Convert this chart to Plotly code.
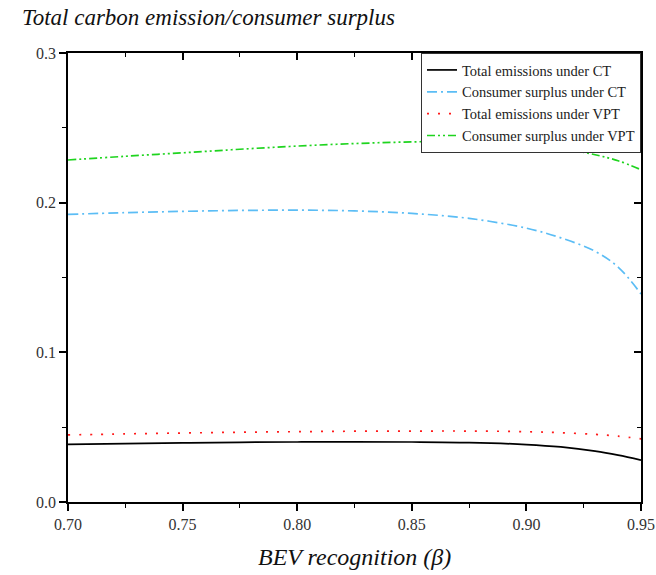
import plotly.graph_objects as go

beta = [0.70, 0.725, 0.75, 0.775, 0.80, 0.825, 0.85, 0.875, 0.90, 0.915, 0.93, 0.94, 0.95]
emis_ct = [0.0385, 0.0390, 0.0395, 0.0399, 0.0401, 0.0402, 0.0401, 0.0397, 0.0384, 0.0368, 0.0340, 0.0313, 0.0280]
surp_ct = [0.1922, 0.1933, 0.1942, 0.1948, 0.1950, 0.1945, 0.1928, 0.1895, 0.1830, 0.1765, 0.1675, 0.1570, 0.1390]
emis_vpt = [0.0448, 0.0455, 0.0461, 0.0466, 0.0470, 0.0473, 0.0474, 0.0474, 0.0470, 0.0463, 0.0452, 0.0440, 0.0422]
surp_vpt = [0.2285, 0.2310, 0.2333, 0.2357, 0.2378, 0.2395, 0.2406, 0.2410, 0.2390, 0.2365, 0.2320, 0.2280, 0.2220]

names = ["Total emissions under CT", "Consumer surplus under CT",
         "Total emissions under VPT", "Consumer surplus under VPT"]
colors = ["#000000", "#5BBDF5", "#FF1A1A", "#1ED41E"]
dashes = ["solid", "10px,4px,2px,4px", "2px,9px", "8px,3px,2px,3px,2px,3px"]
series = [emis_ct, surp_ct, emis_vpt, surp_vpt]

FONT = "Liberation Serif"

fig = go.Figure()
for nm, ys, c, d in zip(names, series, colors, dashes):
    fig.add_trace(go.Scatter(x=beta, y=ys, name=nm, mode="lines",
                             line=dict(color=c, dash=d, width=1.7, shape="spline"),
                             hoverinfo="skip"))

# invisible trace for mirrored (top/right) axes
fig.add_trace(go.Scatter(x=[beta[0]], y=[0], xaxis="x2", yaxis="y2", mode="markers",
                         marker=dict(opacity=0), showlegend=False, hoverinfo="skip"))

xr = [0.70, 0.95]
yr = [0.0, 0.3]
xt = [0.70, 0.75, 0.80, 0.85, 0.90, 0.95]
yt = [0.0, 0.1, 0.2, 0.3]
tfont = dict(family=FONT, size=16, color="#333333")

fig.update_layout(
    width=656, height=575,
    margin=dict(l=68, r=15, t=53, b=73),
    paper_bgcolor="white", plot_bgcolor="white",
    font=dict(family=FONT, color="#222222"),
    showlegend=True,
    legend=dict(x=1, y=1, xanchor="right", yanchor="top",
                bgcolor="white", bordercolor="#333333", borderwidth=1,
                font=dict(family=FONT, size=14.5, color="#222222"),
                tracegroupgap=0),
    xaxis=dict(range=xr, tickvals=xt, tickformat=".2f", automargin=False,
               showgrid=False, zeroline=False, showline=True, linecolor="black", linewidth=1.5,
               ticks="outside", ticklen=7, tickwidth=1.5, tickcolor="black",
               minor=dict(ticks="outside", ticklen=4, tickwidth=1.2, tickcolor="black", dtick=0.025, showgrid=False),
               tickfont=tfont),
    yaxis=dict(range=yr, tickvals=yt, tickformat=".1f", automargin=False,
               showgrid=False, zeroline=False, showline=True, linecolor="black", linewidth=1.5,
               ticks="outside", ticklen=7, tickwidth=1.5, tickcolor="black",
               minor=dict(ticks="outside", ticklen=4, tickwidth=1.2, tickcolor="black", dtick=0.05, showgrid=False),
               tickfont=tfont),
    xaxis2=dict(range=xr, overlaying="x", side="top", tickvals=xt, automargin=False,
                showticklabels=False, showgrid=False, zeroline=False, showline=True,
                linecolor="black", linewidth=1.5, ticks="inside", ticklen=7, tickwidth=1.5, tickcolor="black",
                minor=dict(ticks="inside", ticklen=4, tickwidth=1.2, tickcolor="black", dtick=0.025, showgrid=False)),
    yaxis2=dict(range=yr, overlaying="y", side="right", tickvals=yt, automargin=False,
                showticklabels=False, showgrid=False, zeroline=False, showline=True,
                linecolor="black", linewidth=1.5, ticks="inside", ticklen=7, tickwidth=1.5, tickcolor="black",
                minor=dict(ticks="inside", ticklen=4, tickwidth=1.2, tickcolor="black", dtick=0.05, showgrid=False)),
    annotations=[
        dict(text="<i>Total carbon emission/consumer surplus</i>", xref="paper", yref="paper",
             x=-0.0838, y=1.0, xanchor="left", yanchor="middle", yshift=36, showarrow=False,
             font=dict(family=FONT, size=23, color="#111111")),
        dict(text="<i>BEV recognition (β)</i>", xref="paper", yref="paper",
             x=0.5, y=0.0, xanchor="center", yanchor="middle", yshift=-55, showarrow=False,
             font=dict(family=FONT, size=24, color="#111111")),
    ],
)

fig.write_html("out.html")
